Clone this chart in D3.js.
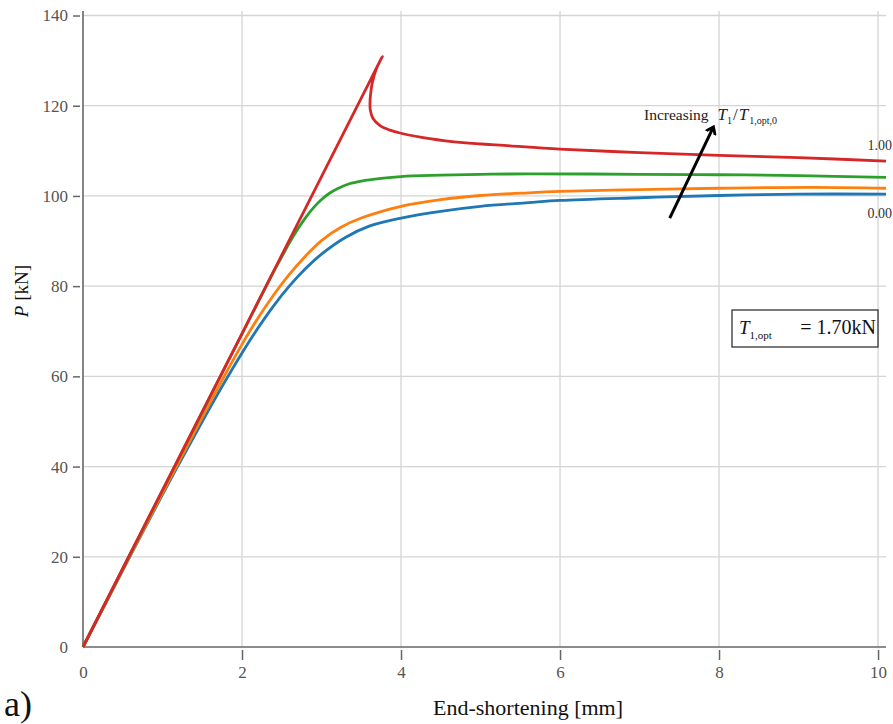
<!DOCTYPE html>
<html>
<head>
<meta charset="utf-8">
<script src="https://cdn.jsdelivr.net/npm/d3@7"></script>
<style>
  body { margin: 0; background: #fff; }
  svg { display: block; font-family: "Liberation Serif", "DejaVu Serif", serif; }
</style>
</head>
<body>
<div id="viz1"></div>
<script>
// =====================
// data
// =====================
const xTicks = [0, 2, 4, 6, 8, 10];
const yTicks = [0, 20, 40, 60, 80, 100, 120, 140];

// end-shortening [mm], load [kN] for each T1/T1,opt,0 level
const blueX = [0, 0.5, 1.0, 1.5, 1.8, 2.0, 2.2, 2.4, 2.6, 2.8, 3.0, 3.3, 3.6, 4.0, 4.5, 5.0, 5.6, 6.0, 7.0, 8.0, 9.0, 10.1];
const blueP = [0, 17.0, 33.8, 50.0, 59.3, 65.2, 70.7, 75.7, 80.1, 83.9, 87.1, 90.8, 93.3, 95.1, 96.6, 97.7, 98.5, 99.0, 99.6, 100.1, 100.4, 100.4];

const orangeX = [0, 0.5, 1.0, 1.5, 1.8, 2.0, 2.2, 2.4, 2.6, 2.8, 3.0, 3.25, 3.5, 4.0, 4.5, 5.0, 5.6, 6.0, 7.0, 8.0, 9.2, 10.1];
const orangeP = [0, 17.1, 34.1, 50.9, 60.8, 67.1, 72.9, 78.1, 82.7, 86.7, 90.1, 93.1, 95.1, 97.7, 99.2, 100.1, 100.7, 101.0, 101.4, 101.7, 101.9, 101.7];

const greenX = [0, 1.0, 2.0, 2.4, 2.5, 2.6, 2.7, 2.8, 2.9, 3.0, 3.1, 3.2, 3.35, 3.5, 3.75, 4.0, 4.5, 5.0, 5.6, 7.0, 8.0, 9.0, 10.1];
const greenP = [0, 34.7, 69.4, 83.3, 86.5, 89.7, 92.6, 95.2, 97.4, 99.2, 100.6, 101.6, 102.7, 103.3, 103.9, 104.3, 104.6, 104.8, 104.9, 104.8, 104.7, 104.5, 104.1];

const redX = [0, 1.0, 2.0, 3.0, 3.5, 3.765, 3.69, 3.64, 3.62, 3.61, 3.614, 3.65, 3.736, 3.86, 4.0, 4.36, 4.78, 5.37, 6.0, 7.0, 8.0, 9.0, 10.1];
const redP = [0, 34.8, 69.5, 104.3, 121.7, 130.9, 128.2, 125.2, 123.0, 120.8, 119.0, 117.1, 115.6, 114.6, 113.9, 112.7, 111.8, 111.1, 110.4, 109.6, 109.0, 108.5, 107.7];

const seriesNames = ["0.00", "0.33", "0.67", "1.00"];
const seriesColors = ["#1f77b4", "#ff7f0e", "#2ca02c", "#d62728"];

// arrow annotation in data units
const arrowFrom = [7.38, 95.1];
const arrowTo = [7.93, 115.3];

// =====================
// set up
// =====================
const outerWidth = 893, outerHeight = 724;
const plot = {left: 83, right: 886, top: 11, bottom: 647};

const x = d3.scaleLinear().domain([0, 10.1]).range([plot.left, plot.right]);
const y = d3.scaleLinear().domain([0, 141]).range([plot.bottom, plot.top]);

const series = [
    {x: blueX, p: blueP},
    {x: orangeX, p: orangeP},
    {x: greenX, p: greenP},
    {x: redX, p: redP}
].map((s, i) => ({
    name: seriesNames[i],
    color: seriesColors[i],
    pts: s.x.map((v, j) => [v, s.p[j]])
}));

const line = d3.line()
    .x(d => x(d[0]))
    .y(d => y(d[1]))
    .curve(d3.curveCatmullRom.alpha(0.5));

const svg = d3.select("#viz1").append("svg")
    .attr("width", outerWidth)
    .attr("height", outerHeight);

// grid
svg.append("g").selectAll("line")
    .data(yTicks.filter(d => d > 0))
    .join("line")
    .attr("x1", plot.left).attr("x2", plot.right)
    .attr("y1", d => y(d)).attr("y2", d => y(d))
    .attr("stroke", "#d4d4d4").attr("stroke-width", 1.3);

svg.append("g").selectAll("line")
    .data(xTicks.filter(d => d > 0))
    .join("line")
    .attr("x1", d => x(d)).attr("x2", d => x(d))
    .attr("y1", plot.top).attr("y2", plot.bottom)
    .attr("stroke", "#d4d4d4").attr("stroke-width", 1.3);

// y axis
const gy = svg.append("g")
    .attr("transform", "translate(" + (plot.left - 3) + ",0)")
    .call(d3.axisLeft(y).tickValues(yTicks).tickSize(7).tickPadding(5).tickFormat(d3.format("d")));
gy.select(".domain").remove();
gy.selectAll(".tick line").attr("stroke", "#666").attr("stroke-width", 1.5)
    .attr("opacity", d => d === 0 ? 0 : 1);
gy.selectAll(".tick text").attr("fill", "#555").style("font-size", "17px")
    .style("font-family", "Liberation Serif");

// x axis
const gx = svg.append("g")
    .attr("transform", "translate(0," + (plot.bottom + 3) + ")")
    .call(d3.axisBottom(x).tickValues(xTicks).tickSize(10).tickPadding(6).tickFormat(d3.format("d")));
gx.select(".domain").remove();
gx.selectAll(".tick line").attr("stroke", "#666").attr("stroke-width", 1.5)
    .attr("opacity", d => d === 0 ? 0 : 1);
gx.selectAll(".tick text").attr("fill", "#555").style("font-size", "17px")
    .style("font-family", "Liberation Serif");

// spines
svg.append("line")
    .attr("x1", plot.left).attr("x2", plot.left)
    .attr("y1", plot.top).attr("y2", plot.bottom)
    .attr("stroke", "#666").attr("stroke-width", 1.6);
svg.append("line")
    .attr("x1", plot.left).attr("x2", plot.right)
    .attr("y1", plot.bottom).attr("y2", plot.bottom)
    .attr("stroke", "#666").attr("stroke-width", 1.6);

// curves
svg.append("g").selectAll("path")
    .data(series)
    .join("path")
    .attr("fill", "none")
    .attr("stroke", d => d.color)
    .attr("stroke-width", 2.8)
    .attr("stroke-linejoin", "round")
    .attr("d", d => line(d.pts));

// end labels 1.00 / 0.00
svg.append("text")
    .attr("x", outerWidth - 1).attr("y", y(redP[redP.length - 1]) - 11)
    .attr("text-anchor", "end")
    .style("font-size", "14px").attr("fill", "#333")
    .text(seriesNames[3]);
svg.append("text")
    .attr("x", outerWidth - 1).attr("y", y(blueP[blueP.length - 1]) + 24)
    .attr("text-anchor", "end")
    .style("font-size", "14px").attr("fill", "#333")
    .text(seriesNames[0]);

// arrow
const defs = svg.append("defs");
defs.append("marker")
    .attr("id", "head")
    .attr("viewBox", "-7 -7 14 14")
    .attr("refX", 0).attr("refY", 0)
    .attr("markerWidth", 14).attr("markerHeight", 14)
    .attr("markerUnits", "userSpaceOnUse")
    .attr("orient", "auto")
  .append("path")
    .attr("d", "M-6,-4.5 L0,0 L-6,4.5")
    .attr("fill", "none").attr("stroke", "#000").attr("stroke-width", 2.8)
    .attr("stroke-linecap", "round");

svg.append("line")
    .attr("x1", x(arrowFrom[0])).attr("y1", y(arrowFrom[1]))
    .attr("x2", x(arrowTo[0])).attr("y2", y(arrowTo[1]))
    .attr("stroke", "#000").attr("stroke-width", 3)
    .attr("marker-end", "url(#head)");

// arrow label
const ann = svg.append("text")
    .attr("x", 644).attr("y", 120)
    .style("font-size", "15.5px").attr("fill", "#222");
ann.append("tspan").text("Increasing");
ann.append("tspan").attr("dx", 9).style("font-style", "italic").style("font-size", "17px").text("T");
ann.append("tspan").attr("dy", 4).style("font-size", "10px").text("1");
ann.append("tspan").attr("dy", -4).attr("dx", 1).style("font-size", "17px").text("/");
ann.append("tspan").attr("dx", 1).style("font-style", "italic").style("font-size", "17px").text("T");
ann.append("tspan").attr("dy", 4).attr("dx", 1).style("font-size", "10px").text("1,opt,0");

// legend box
svg.append("rect")
    .attr("x", 732).attr("y", 310).attr("width", 146).attr("height", 37)
    .attr("fill", "#fff").attr("stroke", "#222").attr("stroke-width", 1.2);
const leg = svg.append("text")
    .attr("x", 739).attr("y", 334)
    .style("font-size", "19px").attr("fill", "#111");
leg.append("tspan").style("font-style", "italic").text("T");
leg.append("tspan").attr("dy", 5).style("font-size", "11px").text("1,opt");
svg.append("text")
    .attr("x", 876).attr("y", 334)
    .attr("text-anchor", "end")
    .style("font-size", "20px").attr("fill", "#111")
    .text("= 1.70kN");

// axis labels
svg.append("text")
    .attr("x", 528).attr("y", 715)
    .attr("text-anchor", "middle")
    .style("font-size", "22px").attr("fill", "#111")
    .text("End-shortening [mm]");

const yl = svg.append("text")
    .attr("transform", "translate(28,291) rotate(-90)")
    .attr("text-anchor", "middle")
    .style("font-size", "19px").attr("fill", "#111");
yl.append("tspan").style("font-style", "italic").text("P");
yl.append("tspan").text(" [kN]");

svg.append("text")
    .attr("x", 4).attr("y", 716)
    .style("font-size", "36px").attr("fill", "#111")
    .text("a)");
</script>
</body>
</html>
